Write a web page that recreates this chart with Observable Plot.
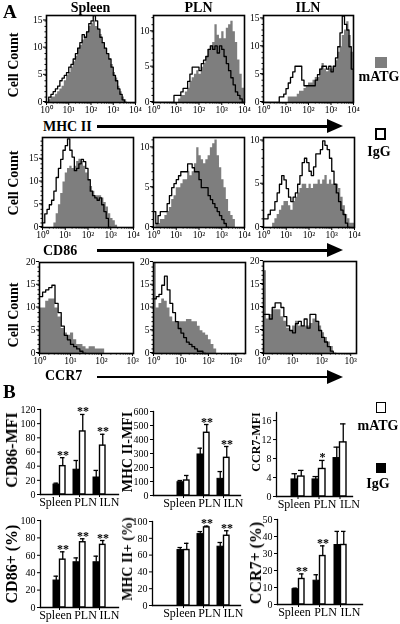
<!DOCTYPE html>
<html><head><meta charset="utf-8">
<script src="https://cdn.jsdelivr.net/npm/d3@7"></script>
<script src="https://cdn.jsdelivr.net/npm/@observablehq/plot@0.6"></script>
<style>
body{margin:0;background:#fff;}
#fig{position:relative;width:400px;height:624px;overflow:hidden;font-family:"Liberation Serif","Times New Roman",serif;color:#000;background:#fff;}
#fig svg{overflow:visible;will-change:transform;}
</style></head><body><div id="fig"></div>
<script>
// ---------------- DATA ----------------
const binStarts = [0.0,0.1,0.2,0.3,0.4,0.5,0.6,0.7,0.8,0.9,1.0,1.1,1.2,1.3,1.4,1.5,1.6,1.7,1.8,1.9,2.0,2.1,2.2,2.3,2.4,2.5,2.6,2.7,2.8,2.9,3.0,3.1,3.2,3.3,3.4,3.5,3.6,3.7,3.8,3.9];
const binWidth = 0.1;

// MHC II histograms (cell count per 0.1-decade bin)
const mhcSpleenMATG = [0,0.5,1,1,1.5,2,2.5,3,4,5,5.5,6.5,7.5,8.5,10,10.5,11.5,12,13,14,14.5,15,14,13.5,12.5,11,10,9,8,7,5.5,4.5,3,2,1,0.5];
const mhcSpleenIgG  = [0,1,1.5,2,2.5,3,4,4.5,5,5.5,6.5,7,8,9,10,11,12.5,12,13,14.5,15,16,15,13.5,12,11,10,9,8,6.5,5,4,2.5,1.5,0.5,0];
const mhcPlnMATG    = [0,0,0,0,0,0,0,0,0,0,0,0.5,1,1,1.5,2,3,3.5,4,4.5,4,5,5.5,6.5,7.5,8,8.5,11,9.5,9,10,9,10.5,11,11.5,10,8.5,6,4,2];
const mhcPlnIgG     = [0,0,0,0,0,0,0,0,0,1,1,1,1.5,2,2,3,4,5,5,5,4.5,5.5,6,6.5,7.5,8,7.5,8,7,8,7.5,6.5,5.5,4.5,3.5,2.5,1.5,1,0.5,0];
const mhcIlnMATG    = [0,0,0,0,0,0,0,0,0,0,0,1,1,1,1,1.5,2,2,2.5,3,3.5,3.5,4,4.5,4.5,6,7,6,5.5,6,6,6.5,7.5,9,10,12,13,14.5,12,9];
const mhcIlnIgG     = [0,0,0,0,0,0,0,1,1,1.5,2.5,3.5,4.5,5.5,6.5,6.5,6.5,4,3,3,3,3,3,4,5,6,6.5,6.5,6,6.5,5.5,6.5,8,10,12.5,15.5,14,13,10,6];

// CD86 histograms
const cd86SpleenMATG = [0,0,0,0,0,1,3,5,7.5,10,12,13,13.5,13,13.5,14.5,15,14.5,13.5,12,10.5,9,8,7,7,7,6.5,5.5,4.5,3,2,1.5,0.5,0];
const cd86SpleenIgG  = [1,3,4,5,6,8,11,13,15,17,18,19.5,17,15.5,12.5,13,14,15,14.5,13,10.5,8,7,6.5,6,6.5,5,3.5,2,0];
const cd86PlnMATG    = [0,0.5,0.5,1,1,1.5,2,2.5,3.5,4,5,5,5.5,6,6,7,6.5,7,8,10,9,8.5,8,8.5,9,10,10.5,11,9,7.5,6,5,3.5,2,1.5,1,0];
const cd86PlnIgG     = [2,0.5,1.5,2,2,2,3,4,5,5.5,6,6.5,7,7,7,8,8,7.5,7,7,6,5,5,5,4,3.5,3,2.5,2,1.5,1,0.5,0];
const cd86IlnMATG    = [0,0,0,0,0.5,1,1.5,2,2.5,3,3,2.5,2,3,3.5,4,4.5,5,5,4.5,5,4.5,5,5,5.5,5,5.5,6,5,5.5,5,5,5,4.5,3.5,2.5,1.5,1,0.5,0.5];
const cd86IlnIgG     = [1,1,1.5,2,2,3,4,5,6,5.5,4.5,3.5,3,3.5,4,5,6,7.5,8,7.5,6.5,6,7,8.5,8.5,9,10,9.5,9,8,6.5,5,4,3,2,1.5,0.5,0];

// CCR7 histograms
const ccr7SpleenMATG = [10,10,11.5,12,12,10,8,5.5,4.5,4,4.5,3,2,2,1.5,1,1.5,1.5,1,1,1,0];
const ccr7SpleenIgG  = [12.5,13.5,14,14.5,15,11,9,6,4,3,2,1.5,1,0.5,0];
const ccr7PlnMATG    = [20,10,11,12,11.5,10,8,7,7,7,7,7,7.5,7.5,7,7,6,5,4.5,4,3,2,1,0];
const ccr7PlnIgG     = [12,12.5,13,15,17,14,11,9,7,5.5,4.5,3.5,2.5,2,1.5,1,0.5,0.5,0];
const ccr7IlnMATG    = [18,7.5,8.5,9.5,9.5,9.5,8,7,5.5,5,6,7,6,6,6,6,6.5,7.5,7,6,4.5,3.5,2.5,1.5,0];
const ccr7IlnIgG     = [8.5,8.5,7.5,10,11,11,10,8,6,5,4.5,6.5,7,6,7.5,5.5,8.5,8.5,7,5,3.5,2.5,1.5,0.5,0];

const decadeTicks4 = [0,1,2,3,4];
const decadeTicks3 = [0,1,2,3];
const countTicks10 = [0,5,10];
const countTicks15 = [0,5,10,15];
const countTicks20 = [0,5,10,15,20];

// Panel B bar charts
const categories = ["Spleen","PLN","ILN"];
const cd86MfiIgG = [14,35,24],   cd86MfiIgGErr = [2,13,10],   cd86MfiATG = [40,89,69],   cd86MfiATGErr = [12,24,16],  cd86MfiStars = ["**","**","**"];
const mhcMfiIgG  = [95,293,119], mhcMfiIgGErr  = [12,45,52],  mhcMfiATG  = [107,448,269], mhcMfiATGErr = [36,59,81],  mhcMfiStars  = ["","**","**"];
const ccr7MfiIgG = [3.6,3.6,8.1], ccr7MfiIgGErr = [1.2,0.6,2.3], ccr7MfiATG = [4.2,5.8,11.4], ccr7MfiATGErr = [1.3,1.8,3.9], ccr7MfiStars = ["","*",""];
const cd86PctIgG = [31,52,52],   cd86PctIgGErr = [5,5,7],     cd86PctATG = [55,75,72],   cd86PctATGErr = [9,4,5],     cd86PctStars = ["**","**","**"];
const mhcPctIgG  = [66,85,70],   mhcPctIgGErr  = [3,3,5],     mhcPctATG  = [66,93,83],   mhcPctATGErr  = [8,1.5,6],   mhcPctStars  = ["","**","**"];
const ccr7PctIgG = [9,14,35],    ccr7PctIgGErr = [0.6,3.5,8], ccr7PctATG = [15,28.5,35], ccr7PctATGErr = [3,6,8],     ccr7PctStars = ["**","**",""];
const cd86MfiTicks = [0,20,40,60,80,100,120];
const mhcMfiTicks  = [0,100,200,300,400,500,600];
const ccr7MfiTicks = [0,4,8,12,16];
const pctTicks100  = [0,20,40,60,80,100];
const pctTicks50   = [0,10,20,30,40,50];

// ---------------- RENDER ----------------
const FONT = '"Liberation Serif","Times New Roman",serif';
const GRAY = "#7e7e7e";
const SUP = ["\u2070","\u00B9","\u00B2","\u00B3","\u2074"];
const fig = document.getElementById("fig");

function put(el, left, top) {
  el.style.position = "absolute";
  el.style.left = left + "px";
  el.style.top = top + "px";
  fig.appendChild(el);
}
function addText(str, x, baseline, fs, bold, anchor) {
  const d = document.createElement("div");
  d.textContent = str;
  d.style.cssText = `white-space:nowrap;line-height:1;font-size:${fs}px;font-weight:${bold ? "bold" : "normal"};`;
  if (anchor === "middle") d.style.transform = "translateX(-50%)";
  put(d, x, baseline - 0.84 * fs);
}
function addRot(str, cx, cy, fs, bold) {
  const d = document.createElement("div");
  d.textContent = str;
  d.style.cssText = `white-space:nowrap;line-height:1;font-size:${fs}px;font-weight:${bold ? "bold" : "normal"};transform:translate(-50%,-50%) rotate(-90deg);`;
  put(d, cx, cy);
}
function addArrow(x1, x2, y) {
  const l = document.createElement("div");
  l.style.cssText = `width:${x2 - x1}px;height:2.5px;background:#000;`;
  put(l, x1, y - 1.25);
  const h = document.createElement("div");
  h.style.cssText = "width:0;height:0;border-left:16px solid #000;border-top:7.5px solid transparent;border-bottom:7.5px solid transparent;";
  put(h, x2 - 1, y - 7.5);
}
function addSquare(x, y, w, h, fill, border) {
  const d = document.createElement("div");
  d.style.cssText = `box-sizing:border-box;width:${w}px;height:${h}px;background:${fill};border:${border};`;
  put(d, x, y);
}

// Histograms
const HM = {l: 22, r: 4, t: 3, b: 16};
function stepRows(counts) {
  const rows = counts.map((c, i) => ({x: binStarts[i], y: c}));
  rows.push({x: binStarts[counts.length - 1] + binWidth, y: 0});
  return rows;
}
function hist(p) {
  const [x0, y0, x1, y1] = p.frame;
  const w = x1 - x0, h = y1 - y0;
  const minor = [];
  for (let d = 0; d < p.xmax; d++) for (let k = 2; k < 10; k++) {
    const v = d + Math.log10(k);
    if (v < p.xmax) minor.push(v);
  }
  const yMinor = d3.range(0, p.ymax, 1);
  const svg = Plot.plot({
    width: w + HM.l + HM.r, height: h + HM.t + HM.b,
    marginLeft: HM.l, marginRight: HM.r, marginTop: HM.t, marginBottom: HM.b,
    style: {fontFamily: FONT, fontSize: "9.5px", background: "none", overflow: "visible", color: "#000"},
    x: {domain: [0, p.xmax], label: null},
    y: {domain: [0, p.ymax], label: null},
    marks: [
      Plot.areaY(stepRows(p.atg), {x: "x", y: "y", curve: "step-after", fill: GRAY, clip: true}),
      Plot.lineY(stepRows(p.igg), {x: "x", y: "y", curve: "step-after", stroke: "#000", strokeWidth: 1.3, clip: true}),
      Plot.axisX({ticks: minor, tickSize: 1.5, tickFormat: () => "", label: null}),
      Plot.axisX({ticks: p.xTicks, tickSize: 3, tickPadding: 1, tickFormat: d => "10" + SUP[d], label: null, fill: "#000"}),
      Plot.axisY({ticks: yMinor, tickSize: 1.5, tickFormat: () => "", label: null}),
      Plot.axisY({ticks: p.yTicks, tickSize: 3, tickPadding: 1, label: null, fill: "#000", dy: -1}),
      Plot.frame({stroke: "#000", strokeWidth: 1.6})
    ]
  });
  put(svg, x0 - HM.l, y0 - HM.t);
}

const histPanels = [
  {atg: mhcSpleenMATG, igg: mhcSpleenIgG, xmax: 4, ymax: 16, xTicks: decadeTicks4, yTicks: countTicks15, frame: [46, 15, 135, 102]},
  {atg: mhcPlnMATG, igg: mhcPlnIgG, xmax: 4, ymax: 12.3, xTicks: decadeTicks4, yTicks: countTicks10, frame: [153, 15, 244, 102]},
  {atg: mhcIlnMATG, igg: mhcIlnIgG, xmax: 4, ymax: 15.6, xTicks: decadeTicks4, yTicks: countTicks15, frame: [263, 15, 353, 102]},
  {atg: cd86SpleenMATG, igg: cd86SpleenIgG, xmax: 4, ymax: 19.8, xTicks: decadeTicks4, yTicks: countTicks15, frame: [42, 137, 133, 227]},
  {atg: cd86PlnMATG, igg: cd86PlnIgG, xmax: 4, ymax: 11.3, xTicks: decadeTicks4, yTicks: countTicks10, frame: [153, 137, 244, 227]},
  {atg: cd86IlnMATG, igg: cd86IlnIgG, xmax: 4, ymax: 10.4, xTicks: decadeTicks4, yTicks: countTicks10, frame: [263, 137, 354, 227]},
  {atg: ccr7SpleenMATG, igg: ccr7SpleenIgG, xmax: 3.03, ymax: 20, xTicks: decadeTicks3, yTicks: countTicks20, frame: [39, 262, 133, 353]},
  {atg: ccr7PlnMATG, igg: ccr7PlnIgG, xmax: 3.35, ymax: 20, xTicks: decadeTicks3, yTicks: countTicks20, frame: [153, 262, 245, 353]},
  {atg: ccr7IlnMATG, igg: ccr7IlnIgG, xmax: 3.2, ymax: 20, xTicks: decadeTicks3, yTicks: countTicks20, frame: [263, 261, 356, 353]}
];
histPanels.forEach(hist);

// Bar charts
const labelShift = {Spleen: -4, PLN: 6, ILN: 10};
function bars(c) {
  const rows = categories.map((cat, i) => ({cat, igg: c.igg[i], iggErr: c.iggErr[i], atg: c.atg[i], atgErr: c.atgErr[i], star: c.stars[i]}));
  const [x0, y0, x1, y1] = c.frame;
  const mr = 6, mb = 18;
  const svg = Plot.plot({
    width: x1 - c.left + mr, height: y1 - c.top + mb,
    marginLeft: x0 - c.left, marginRight: mr, marginTop: y0 - c.top, marginBottom: mb,
    style: {fontFamily: FONT, fontSize: "10px", background: "none", overflow: "visible", color: "#000"},
    x: {domain: categories, paddingInner: c.pi, paddingOuter: c.po, align: c.align, label: null},
    y: {domain: [0, c.ymax], label: null},
    marks: [
      Plot.barY(rows, {x: "cat", y: "igg", fill: "#000", stroke: "#000", strokeWidth: 1, insetRight: 6.5}),
      Plot.barY(rows, {x: "cat", y: "atg", fill: "#fff", stroke: "#000", strokeWidth: 1.4, insetLeft: 6.5}),
      Plot.ruleX(rows, {x: "cat", y1: "igg", y2: d => d.igg + d.iggErr, dx: -3.25, stroke: "#000", strokeWidth: 1.3}),
      Plot.ruleX(rows, {x: "cat", y1: "atg", y2: d => d.atg + d.atgErr, dx: 3.25, stroke: "#000", strokeWidth: 1.3}),
      Plot.tickY(rows, {x: "cat", y: d => d.igg + d.iggErr, insetLeft: 0.5, insetRight: 7, stroke: "#000", strokeWidth: 1.3}),
      Plot.tickY(rows, {x: "cat", y: d => d.atg + d.atgErr, insetLeft: 7, insetRight: 0.5, stroke: "#000", strokeWidth: 1.3}),
      Plot.text(rows.filter(d => d.star), {x: "cat", y: d => d.atg + d.atgErr, text: "star", dx: 3.5, dy: 1, lineAnchor: "bottom", fontSize: 12, fontWeight: "bold", fill: "#000"}),
      Plot.axisY({ticks: c.ticks, tickSize: 3, tickPadding: 2, label: null, fill: "#000"}),
      Plot.axisX({tickSize: 3, tickFormat: () => "", label: null}),
      ...categories.map(cat => Plot.text([cat], {x: d => d, text: d => d, frameAnchor: "bottom", lineAnchor: "top", dy: 3, dx: labelShift[cat], fontSize: 12, fill: "#000"})),
      Plot.frame({anchor: "left", stroke: "#000", strokeWidth: 1.3}),
      Plot.frame({anchor: "bottom", stroke: "#000", strokeWidth: 1.3})
    ]
  });
  put(svg, c.left, c.top);
  addRot(c.label, c.labelPos[0], c.labelPos[1], c.labelSize, true);
}
const barCharts = [
  {igg: cd86MfiIgG, iggErr: cd86MfiIgGErr, atg: cd86MfiATG, atgErr: cd86MfiATGErr, stars: cd86MfiStars, ticks: cd86MfiTicks, ymax: 120,
   frame: [40, 409, 118, 494], left: 0, top: 398, pi: 0.381, po: 0.548, align: 0.52, label: "CD86-MFI", labelPos: [12, 450], labelSize: 16},
  {igg: mhcMfiIgG, iggErr: mhcMfiIgGErr, atg: mhcMfiATG, atgErr: mhcMfiATGErr, stars: mhcMfiStars, ticks: mhcMfiTicks, ymax: 600,
   frame: [153, 411, 240, 495], left: 123, top: 398, pi: 0.381, po: 0.762, align: 0.69, label: "MHC II-MFI", labelPos: [128, 452], labelSize: 14},
  {igg: ccr7MfiIgG, iggErr: ccr7MfiIgGErr, atg: ccr7MfiATG, atgErr: ccr7MfiATGErr, stars: ccr7MfiStars, ticks: ccr7MfiTicks, ymax: 17.7,
   frame: [276, 412, 352, 496], left: 250, top: 398, pi: 0.395, po: 0.465, align: 0.725, label: "CCR7-MFI", labelPos: [256, 442], labelSize: 12},
  {igg: cd86PctIgG, iggErr: cd86PctIgGErr, atg: cd86PctATG, atgErr: cd86PctATGErr, stars: cd86PctStars, ticks: pctTicks100, ymax: 100,
   frame: [40, 520, 118, 607], left: 0, top: 508, pi: 0.381, po: 0.548, align: 0.52, label: "CD86+ (%)", labelPos: [12, 564], labelSize: 16},
  {igg: mhcPctIgG, iggErr: mhcPctIgGErr, atg: mhcPctATG, atgErr: mhcPctATGErr, stars: mhcPctStars, ticks: pctTicks100, ymax: 100,
   frame: [152, 521, 240, 605], left: 123, top: 508, pi: 0.381, po: 0.786, align: 0.7, label: "MHC II+ (%)", labelPos: [128, 559], labelSize: 14},
  {igg: ccr7PctIgG, iggErr: ccr7PctIgGErr, atg: ccr7PctATG, atgErr: ccr7PctATGErr, stars: ccr7PctStars, ticks: pctTicks50, ymax: 50,
   frame: [277, 519, 362, 604], left: 250, top: 508, pi: 0.41, po: 0.637, align: 0.5, label: "CCR7+ (%)", labelPos: [256, 563], labelSize: 16}
];
barCharts.forEach(bars);

// Panel A annotations
addText("A", 3, 18, 19, true);
addText("Spleen", 90.5, 13, 14, true, "middle");
addText("PLN", 198.5, 13, 14, true, "middle");
addText("ILN", 308, 13, 14, true, "middle");
addRot("Cell Count", 14, 65, 14, true);
addRot("Cell Count", 14, 183, 14, true);
addRot("Cell Count", 14, 315, 14, true);
addText("MHC II", 43, 132, 14, true);
addArrow(97, 328, 126.5);
addText("CD86", 43, 256, 14, true);
addArrow(97, 328, 250.5);
addText("CCR7", 45, 381, 14, true);
addArrow(97, 328, 377);
addSquare(375, 57, 12, 11, GRAY, "none");
addText("mATG", 379, 82, 14, true, "middle");
addSquare(375, 128, 11, 12, "#fff", "2px solid #000");
addText("IgG", 379, 157, 14, true, "middle");

// Panel B annotations
addText("B", 3, 398, 19, true);
addSquare(376, 402, 10, 11, "#fff", "1.8px solid #000");
addText("mATG", 378, 431, 14, true, "middle");
addSquare(376, 463, 10, 10, "#000", "none");
addText("IgG", 378, 489, 14, true, "middle");
</script></body></html>
